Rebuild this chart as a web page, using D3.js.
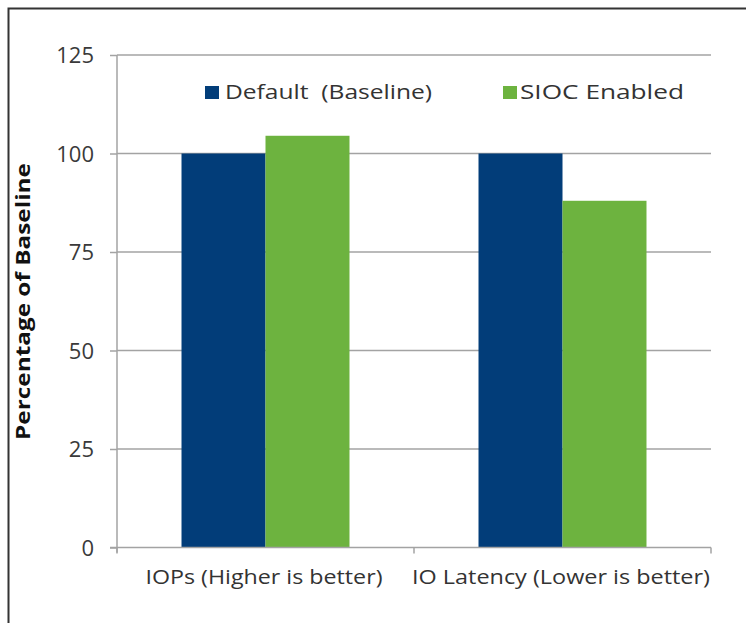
<!DOCTYPE html>
<html><head><meta charset="utf-8">
<script src="https://cdn.jsdelivr.net/npm/d3@7"></script>
<style>html,body{margin:0;padding:0;background:#fff;}</style>
</head><body>
<script>
const categories = ["IOPs (Higher is better)", "IO Latency (Lower is better)"];
const seriesNames = ["Default  (Baseline)", "SIOC Enabled"];
const defaultValues = [100, 100];
const siocValues = [104.5, 88];
const yTickValues = [0, 25, 50, 75, 100, 125];
const colors = ["#023d79", "#6db33f"];
const yTitle = "Percentage of Baseline";

(function () {
const W = 746, H = 623;
const svg = d3.select("body").append("svg").attr("width", W).attr("height", H);
const font = "'Open Sans', Lato, sans-serif";

// frame
svg.append("rect").attr("x", 8.5).attr("y", 8.5).attr("width", 800).attr("height", 700)
  .attr("fill", "none").attr("stroke", "#333").attr("stroke-width", 2);

const pl = 117, pr = 711, pt = 55, pb = 547.5;
const x = d3.scaleBand().domain(categories).range([pl, pr]).paddingInner(0).paddingOuter(0);
const inner = d3.scaleBand().domain(seriesNames).range([0, x.bandwidth()]).paddingInner(0).paddingOuter(0.768);
const y = d3.scaleLinear().domain([0, 125]).range([pb, pt]);

// gridlines
svg.append("g").selectAll("line").data(yTickValues.filter(d => d > 0)).join("line")
  .attr("x1", pl).attr("x2", pr).attr("y1", d => y(d)).attr("y2", d => y(d))
  .attr("stroke", "#a3a3a3").attr("stroke-width", 1.5);

// y axis
const yAxis = d3.axisLeft(y).tickValues(yTickValues).tickSize(7).tickPadding(16);
const gy = svg.append("g").attr("transform", `translate(${pl},0)`).call(yAxis);
gy.select(".domain").attr("stroke", "#a3a3a3").attr("stroke-width", 1.5).attr("d", `M0,${pt}V${pb + 5}`);
gy.selectAll(".tick line").attr("stroke", "#a3a3a3").attr("stroke-width", 1.5);
gy.selectAll(".tick text").attr("font-family", font).attr("font-size", 22).attr("fill", "#3a3a3a").attr("dy", "0.36em");

// bars
const data = categories.map((c, i) => ({cat: c, vals: [defaultValues[i], siocValues[i]]}));
const groups = svg.append("g").selectAll("g").data(data).join("g")
  .attr("transform", d => `translate(${x(d.cat)},0)`);
groups.selectAll("rect").data(d => d.vals.map((v, j) => ({s: seriesNames[j], v, j}))).join("rect")
  .attr("x", d => inner(d.s)).attr("width", inner.bandwidth())
  .attr("y", d => y(d.v)).attr("height", d => y(0) - y(d.v))
  .attr("fill", d => colors[d.j]);

// x axis
const xg = svg.append("g");
xg.append("line").attr("x1", pl - 7).attr("x2", pr).attr("y1", pb).attr("y2", pb)
  .attr("stroke", "#a3a3a3").attr("stroke-width", 1.5);
const xTickPos = [pl, ...categories.map(c => x(c) + x.bandwidth())];
xg.selectAll("line.t").data(xTickPos).join("line").attr("class", "t")
  .attr("x1", d => d).attr("x2", d => d).attr("y1", pb).attr("y2", pb + 6)
  .attr("stroke", "#a3a3a3").attr("stroke-width", 1.5);
const xLabelLen = [237, 298];
svg.append("g").selectAll("text").data(categories).join("text")
  .attr("x", d => x(d) + x.bandwidth() / 2 - 1.5).attr("y", 584)
  .attr("text-anchor", "middle").attr("font-family", font).attr("font-size", 20)
  .attr("textLength", (d, i) => xLabelLen[i]).attr("lengthAdjust", "spacingAndGlyphs")
  .attr("fill", "#333").text(d => d);

// y title
svg.append("text").attr("transform", "translate(30,301.5) rotate(-90)")
  .attr("text-anchor", "middle").attr("font-family", font).attr("font-weight", "bold")
  .attr("font-size", 19).attr("textLength", 277).attr("lengthAdjust", "spacingAndGlyphs")
  .attr("fill", "#111").text(yTitle);

// legend
const legendX = [205, 503];
const legendLen = [207, 164];
const lg = svg.append("g").selectAll("g").data(seriesNames).join("g")
  .attr("transform", (d, i) => `translate(${legendX[i]},86)`);
lg.append("rect").attr("width", 14).attr("height", 13).attr("fill", (d, i) => colors[i]);
lg.append("text").attr("x", (d, i) => i === 0 ? 20 : 17).attr("y", 13).attr("font-family", font).attr("font-size", 20)
  .attr("textLength", (d, i) => legendLen[i]).attr("lengthAdjust", "spacingAndGlyphs")
  .attr("fill", "#333").style("white-space", "pre").text(d => d);
})();
</script>
</body></html>
